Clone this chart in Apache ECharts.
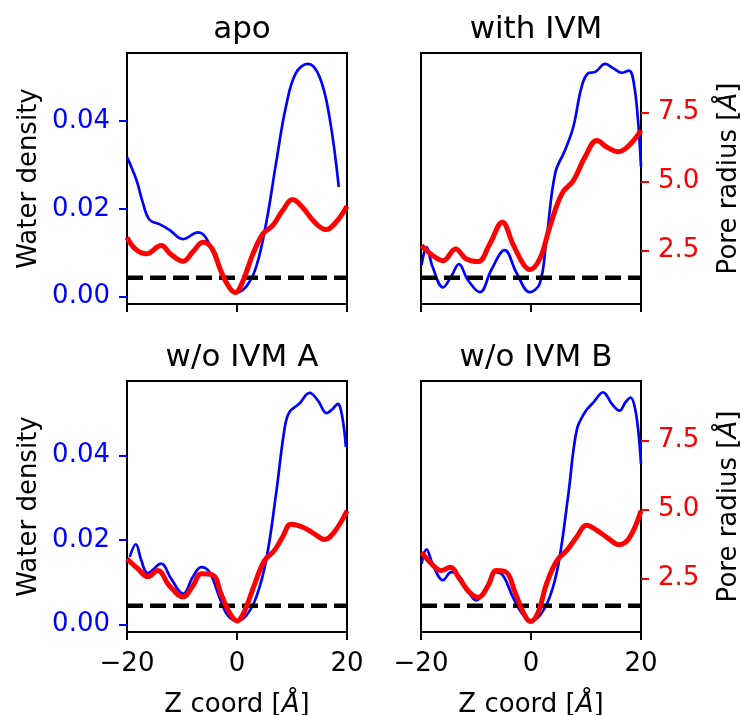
<!DOCTYPE html>
<html>
<head>
<meta charset="utf-8">
<script src="https://cdn.jsdelivr.net/npm/echarts@6/dist/echarts.min.js"></script>
<style>
html,body{margin:0;padding:0;background:#fff;}
#chart{width:741px;height:715px;}
</style>
</head>
<body>
<div id="chart"></div>
<script>
// ---- data ----
const panelTitles = ['apo', 'with IVM', 'w/o IVM A', 'w/o IVM B'];
const xTicks = [-20, 0, 20];
const densityTicks = [0, 0.02, 0.04];
const radiusTicks = [2.5, 5.0, 7.5];
const cutoffRadius = 1.5;

// apo
const apoBlueZ = [-20,-18.3,-17.1,-15.9,-14.1,-12.3,-9.8,-7.1,-5.6,-3.8,-2.0,-0.2,1.7,3.5,5.3,7.1,8.9,10.7,12.9,15.0,16.8,18.5];
const apoBlueV = [0.0318,0.0266,0.0213,0.0175,0.0165,0.0152,0.0131,0.0146,0.0133,0.0083,0.0030,0.0009,0.0023,0.0068,0.0167,0.0304,0.0433,0.0509,0.0530,0.0501,0.0410,0.0250];
const apoRedZ = [-20,-18.5,-16.5,-13.8,-12.0,-9.8,-8.0,-6.2,-4.5,-3.0,-1.5,-0.3,1.0,2.9,4.7,6.5,8.3,10.1,11.9,14.1,16.2,18.0,20];
const apoRedV = [2.97,2.55,2.37,2.67,2.35,2.10,2.45,2.79,2.55,1.78,1.18,0.97,1.35,2.37,3.09,3.40,3.94,4.34,4.06,3.52,3.25,3.52,4.10];

// with IVM
const ivmBlueZ = [-19.9,-19.0,-17.9,-16.0,-14.5,-13.1,-11.5,-9.3,-7.2,-4.8,-2.6,-0.2,1.6,2.8,4.4,6.2,7.7,9.2,10.4,11.7,13.5,15.0,16.5,17.8,18.7,19.5,20.0];
const ivmBlueV = [0.0072,0.0112,0.0068,0.0021,0.0046,0.0074,0.0038,0.0010,0.0061,0.0106,0.0053,0.0010,0.0030,0.0129,0.0281,0.0334,0.0387,0.0478,0.0509,0.0512,0.0530,0.0520,0.0510,0.0515,0.0486,0.0395,0.0296];
const ivmRedZ = [-19.9,-17.9,-16.0,-13.7,-11.8,-9.6,-7.5,-5.2,-3.3,-1.4,-0.2,1.6,3.4,5.6,7.7,9.8,12.0,13.8,15.9,17.8,20];
const ivmRedV = [2.67,2.31,2.12,2.55,2.19,2.09,2.73,3.52,2.73,2.00,1.80,2.19,3.34,4.55,5.03,5.88,6.48,6.24,6.08,6.30,6.85];

// w/o IVM A
const aBlueZ = [-19.5,-18.4,-17.4,-16.2,-13.8,-12.0,-9.8,-8.0,-6.5,-5.0,-3.2,-1.7,0.0,1.7,3.5,5.3,7.1,8.6,9.5,11.3,13.2,14.7,16.3,17.4,18.3,19.1,19.8];
const aBlueV = [0.0160,0.0190,0.0152,0.0122,0.0144,0.0109,0.0073,0.0113,0.0136,0.0124,0.0065,0.0022,0.0009,0.0022,0.0065,0.0152,0.0309,0.0459,0.0502,0.0522,0.0548,0.0530,0.0500,0.0510,0.0522,0.0494,0.0420];
const aRedZ = [-20,-18.0,-16.2,-14.4,-12.3,-9.8,-8.0,-6.5,-4.4,-2.9,-1.4,0.0,1.4,3.2,5.0,6.8,8.3,9.8,11.9,14.0,15.9,17.7,20];
const aRedV = [3.21,2.84,2.56,2.78,2.23,1.83,2.23,2.66,2.62,1.93,1.26,0.95,1.32,2.29,3.14,3.51,4.00,4.46,4.36,4.12,3.91,4.18,4.95];

// w/o IVM B
const bBlueZ = [-19.9,-19.0,-17.9,-16.0,-14.5,-13.0,-11.5,-10.0,-8.1,-6.6,-5.1,-3.3,-1.4,-0.1,1.6,3.4,5.0,6.8,8.3,9.8,11.4,13.1,14.7,16.1,17.2,18.1,18.8,19.5,20.0];
const bBlueV = [0.0144,0.0178,0.0144,0.0105,0.0124,0.0114,0.0081,0.0057,0.0089,0.0124,0.0116,0.0065,0.0022,0.0009,0.0022,0.0065,0.0144,0.0309,0.0459,0.0502,0.0526,0.0549,0.0522,0.0506,0.0526,0.0537,0.0518,0.0459,0.0380];
const bRedZ = [-19.9,-18.2,-16.3,-14.7,-13.0,-11.2,-9.6,-7.8,-6.3,-4.5,-2.9,-1.4,-0.1,1.3,2.8,4.7,6.5,8.3,10.1,12.0,14.1,15.9,17.8,20];
const bRedV = [3.45,3.05,2.78,2.90,2.48,1.99,1.81,2.23,2.78,2.72,1.99,1.26,0.93,1.26,2.29,3.14,3.51,4.00,4.42,4.24,3.94,3.72,3.94,4.95];

const blueSets = [[apoBlueZ, apoBlueV], [ivmBlueZ, ivmBlueV], [aBlueZ, aBlueV], [bBlueZ, bBlueV]];
const redSets = [[apoRedZ, apoRedV], [ivmRedZ, ivmRedV], [aRedZ, aRedV], [bRedZ, bRedV]];

// ---- layout ----
const FONT = 'DejaVu Sans';
const FS = 26;
const grids = [
  {left: 127, top: 53, width: 220, height: 251},
  {left: 421, top: 53, width: 220, height: 251},
  {left: 127, top: 381, width: 220, height: 251},
  {left: 421, top: 381, width: 220, height: 251}
];
const densityRange = [[-0.0017, 0.0555], [-0.0017, 0.0555], [-0.00175, 0.0576], [-0.00175, 0.0576]];
const radiusRange = [0.55, 9.66];

function zip(a, b) { return a.map((v, i) => [v, b[i]]); }

const option = {
  backgroundColor: '#fff',
  animation: false,
  title: panelTitles.map((t, i) => ({
    text: t,
    left: grids[i].left + grids[i].width / 2,
    top: grids[i].top - 44,
    textAlign: 'center',
    textStyle: {fontFamily: FONT, fontSize: 31, fontWeight: 'normal', color: '#000'}
  })),
  grid: grids.map(g => Object.assign({show: true, borderColor: '#000', borderWidth: 2,
    backgroundColor: 'transparent', containLabel: false, outerBoundsMode: 'none'}, g)),
  xAxis: grids.map((g, i) => {
    const bottom = i >= 2;
    return {
      gridIndex: i, type: 'value', min: -20, max: 20, interval: 20,
      axisLine: {show: false, onZero: false},
      axisTick: {show: true, length: 8, lineStyle: {color: '#000', width: 2}},
      axisLabel: {show: bottom, margin: 19, color: '#000', fontFamily: FONT, fontSize: FS,
        formatter: v => (v < 0 ? '\u2212' + Math.abs(v) : String(v))},
      splitLine: {show: false},
      name: bottom ? 'Z coord [{i|Å}]' : '',
      nameLocation: 'middle', nameGap: 60,
      nameTextStyle: {fontFamily: FONT, fontSize: FS, color: '#000',
        rich: {i: {fontFamily: FONT, fontSize: FS, fontStyle: 'italic', color: '#000'}}}
    };
  }),
  yAxis: [],
  series: []
};

grids.forEach((g, i) => {
  const leftCol = (i % 2 === 0);
  option.yAxis.push({
    gridIndex: i, type: 'value', position: 'left',
    min: densityRange[i][0], max: densityRange[i][1],
    axisLine: {show: false, onZero: false},
    axisTick: {show: leftCol, length: 8, customValues: densityTicks, lineStyle: {color: '#0000ff', width: 2}},
    axisLabel: {show: leftCol, customValues: densityTicks, margin: 17, color: '#0000ff', fontFamily: FONT, fontSize: FS,
      formatter: v => v.toFixed(2)},
    splitLine: {show: false},
    name: leftCol ? 'Water density' : '',
    nameLocation: 'middle', nameRotate: 90, nameGap: 85,
    nameTextStyle: {fontFamily: FONT, fontSize: FS, color: '#000'}
  });
  option.yAxis.push({
    gridIndex: i, type: 'value', position: 'right',
    min: radiusRange[0], max: radiusRange[1],
    axisLine: {show: false, onZero: false},
    axisTick: {show: !leftCol, length: 8, customValues: radiusTicks, lineStyle: {color: '#ff0000', width: 2}},
    axisLabel: {show: !leftCol, customValues: radiusTicks, margin: 17, color: '#ff0000', fontFamily: FONT, fontSize: FS,
      formatter: v => v.toFixed(1)},
    splitLine: {show: false},
    name: !leftCol ? 'Pore radius [{i|Å}]' : '',
    nameLocation: 'middle', nameRotate: 90, nameGap: 75,
    nameTextStyle: {fontFamily: FONT, fontSize: FS, color: '#000',
      rich: {i: {fontFamily: FONT, fontSize: FS, fontStyle: 'italic', color: '#000'}}}
  });
  option.series.push({
    type: 'line', xAxisIndex: i, yAxisIndex: 2 * i, data: zip(blueSets[i][0], blueSets[i][1]),
    showSymbol: false, smooth: 0.4, lineStyle: {color: '#0000ff', width: 2.7}, z: 2
  });
  option.series.push({
    type: 'line', xAxisIndex: i, yAxisIndex: 2 * i + 1, data: [[-20, cutoffRadius], [20, cutoffRadius]],
    showSymbol: false, lineStyle: {color: '#000', width: 4.5, type: [16, 7]}, z: 3
  });
  option.series.push({
    type: 'line', xAxisIndex: i, yAxisIndex: 2 * i + 1, data: zip(redSets[i][0], redSets[i][1]),
    showSymbol: false, smooth: 0.4, lineStyle: {color: '#ff0000', width: 5}, z: 4
  });
});

const chart = echarts.init(document.getElementById('chart'), null, {renderer: 'canvas'});
chart.setOption(option);
</script>
</body>
</html>
